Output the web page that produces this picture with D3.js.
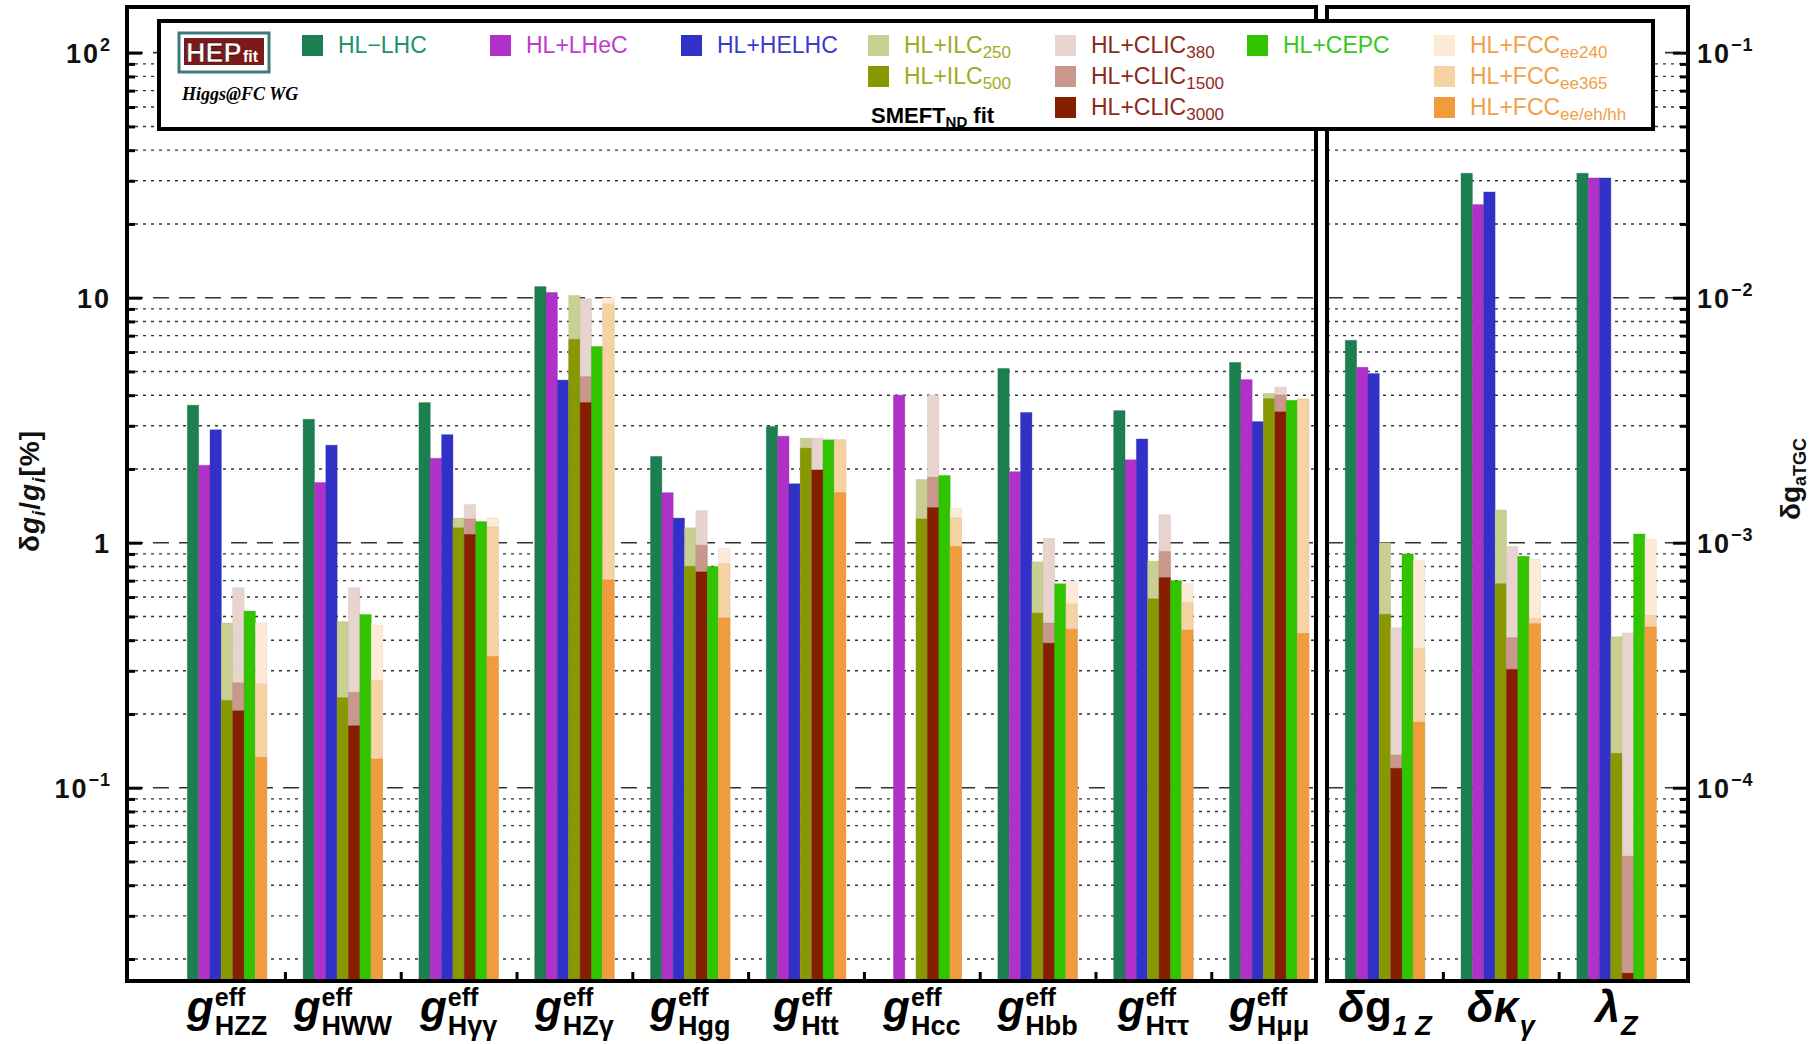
<!DOCTYPE html>
<html>
<head>
<meta charset="utf-8">
<script src="https://cdn.jsdelivr.net/npm/d3@7"></script>
<style>
  html, body { margin: 0; padding: 0; background: #fff; }
  svg { display: block; font-family: "Liberation Sans", Arial, sans-serif; }
</style>
</head>
<body>
<div id="chart"></div>
<script>
// couplings (left panel, in %) and aTGC (right panel, absolute)
const higgsSubs = ["HZZ", "HWW", "Hγγ", "HZγ", "Hgg", "Htt", "Hcc", "Hbb", "Hττ", "Hμμ"]
const tgcLabels = [["δ", "g", "1 Z"], ["δκ", "", "γ"], ["λ", "", "Z"]]

const hlLhc    = [3.64, 3.19, 3.73, 11.1, 2.25, 2.98, null, 5.14, 3.46, 5.44]
const hlLhec   = [2.07, 1.76, 2.21, 10.5, 1.60, 2.72, 4.0, 1.95, 2.18, 4.63]
const hlHelhc  = [2.89, 2.50, 2.76, 4.61, 1.26, 1.74, null, 3.40, 2.65, 3.12]
const ilc250   = [0.47, 0.476, 1.26, 10.2, 1.15, 2.67, 1.81, 0.835, 0.84, 4.07]
const ilc500   = [0.227, 0.233, 1.15, 6.76, 0.80, 2.43, 1.25, 0.516, 0.59, 3.87]
const clic380  = [0.655, 0.655, 1.43, 9.9, 1.35, 2.67, 4.0, 1.04, 1.30, 4.31]
const clic1500 = [0.268, 0.245, 1.25, 4.76, 0.977, 1.98, 1.85, 0.47, 0.92, 4.01]
const clic3000 = [0.206, 0.179, 1.08, 3.73, 0.76, 1.98, 1.39, 0.389, 0.72, 3.42]
const cepc     = [0.526, 0.509, 1.22, 6.32, 0.80, 2.63, 1.88, 0.68, 0.70, 3.81]
const fcc240   = [0.47, 0.461, 1.26, 10.0, 0.948, 2.63, 1.38, 0.698, 0.68, 3.86]
const fcc365   = [0.265, 0.274, 1.16, 9.43, 0.82, 2.63, 1.26, 0.562, 0.57, 3.86]
const fccAll   = [0.133, 0.131, 0.343, 0.705, 0.493, 1.60, 0.965, 0.443, 0.44, 0.426]

const tgcLhc      = [6.7e-3, 3.22e-2, 3.22e-2]
const tgcLhec     = [5.2e-3, 2.40e-2, 3.08e-2]
const tgcHelhc    = [4.9e-3, 2.70e-2, 3.08e-2]
const tgcIlc250   = [1.0e-3, 1.36e-3, 4.13e-4]
const tgcIlc500   = [5.1e-4, 6.8e-4, 1.38e-4]
const tgcClic380  = [4.5e-4, 9.65e-4, 4.28e-4]
const tgcClic1500 = [1.36e-4, 4.1e-4, 5.25e-5]
const tgcClic3000 = [1.20e-4, 3.04e-4, 1.75e-5]
const tgcCepc     = [9.0e-4, 8.8e-4, 1.085e-3]
const tgcFcc240   = [8.45e-4, 8.53e-4, 1.03e-3]
const tgcFcc365   = [3.7e-4, 4.9e-4, 5.05e-4]
const tgcFccAll   = [1.85e-4, 4.67e-4, 4.53e-4]

const leftTicks = [[100, "10", "2"], [10, "10", ""], [1, "1", ""], [0.1, "10", "−1"]]
const rightTicks = [[1e-1, "−1"], [1e-2, "−2"], [1e-3, "−3"], [1e-4, "−4"]]

// series: slot within a group, drawing order = light first, dark on top
const series = [
    {name: "HL−LHC", sub: "", slot: 0, color: "#1b7f50", text: "#22906a", higgs: hlLhc, tgc: tgcLhc},
    {name: "HL+LHeC", sub: "", slot: 1, color: "#b031c8", text: "#c03ccf", higgs: hlLhec, tgc: tgcLhec},
    {name: "HL+HELHC", sub: "", slot: 2, color: "#3131c8", text: "#3a3ad0", higgs: hlHelhc, tgc: tgcHelhc},
    {name: "HL+ILC", sub: "250", slot: 3, color: "#c9cf91", text: "#a3aa22", higgs: ilc250, tgc: tgcIlc250},
    {name: "HL+ILC", sub: "500", slot: 3, color: "#879800", text: "#a3aa22", higgs: ilc500, tgc: tgcIlc500},
    {name: "HL+CLIC", sub: "380", slot: 4, color: "#e7d4ce", text: "#8e2a1c", higgs: clic380, tgc: tgcClic380},
    {name: "HL+CLIC", sub: "1500", slot: 4, color: "#c9978b", text: "#8e2a1c", higgs: clic1500, tgc: tgcClic1500},
    {name: "HL+CLIC", sub: "3000", slot: 4, color: "#851f00", text: "#8e2a1c", higgs: clic3000, tgc: tgcClic3000},
    {name: "HL+CEPC", sub: "", slot: 5, color: "#33c400", text: "#38c81c", higgs: cepc, tgc: tgcCepc},
    {name: "HL+FCC", sub: "ee240", slot: 6, color: "#fdebd8", text: "#f0a048", higgs: fcc240, tgc: tgcFcc240},
    {name: "HL+FCC", sub: "ee365", slot: 6, color: "#f7d2a3", text: "#f0a048", higgs: fcc365, tgc: tgcFcc365},
    {name: "HL+FCC", sub: "ee/eh/hh", slot: 6, color: "#f09c3c", text: "#f0a048", higgs: fccAll, tgc: tgcFccAll}
]

const width = 1810, height = 1044
const plotTop = 7, plotBottom = 981
const leftPanel = [127, 1316], rightPanel = [1327, 1688]
const barW = 0.098

const svg = d3.select("#chart").append("svg")
    .attr("width", width)
    .attr("height", height)
    .attr("viewBox", `0 0 ${width} ${height}`)

const x = d3.scaleLinear().domain([-0.864, 12.617]).range([leftPanel[0], rightPanel[1]])
const y = d3.scaleLog().domain([0.01626, 153.6]).range([plotBottom, plotTop])
const yR = d3.scaleLog().domain([0.01626e-3, 153.6e-3]).range([plotBottom, plotTop])

// grid values: 1..9 x decade
const gridVals = []
for (let e = -2; e <= 2; e++) {
    for (let m = 1; m <= 9; m++) {
        const v = m * Math.pow(10, e)
        if (v >= y.domain()[0] && v <= y.domain()[1]) gridVals.push({v, major: m === 1})
    }
}

const appendGrid = ([x0, x1]) => {
    svg.append("g").selectAll("line")
        .data(gridVals)
        .join("line")
        .attr("x1", x0).attr("x2", x1)
        .attr("y1", d => y(d.v)).attr("y2", d => y(d.v))
        .attr("stroke", "#333")
        .attr("stroke-width", d => d.major ? 1.6 : 1.4)
        .attr("stroke-dasharray", d => d.major ? "16 10" : "3 5")
}
appendGrid(leftPanel)
appendGrid(rightPanel)

// bars
const bars = []
series.forEach(s => {
    s.higgs.forEach((v, i) => v != null && bars.push({i, v, s, scale: y}))
    s.tgc.forEach((v, i) => v != null && bars.push({i: 10 + i, v, s, scale: yR}))
})
const slotX = d => x(d.i + (d.s.slot - 3.5) * barW)
svg.append("g").selectAll("rect")
    .data(bars)
    .join("rect")
    .attr("x", slotX)
    .attr("width", d => x(d.i + (d.s.slot - 2.5) * barW) - slotX(d))
    .attr("y", d => d.scale(d.v))
    .attr("height", d => plotBottom - d.scale(d.v))
    .attr("fill", d => d.s.color)
    .attr("stroke", d => d3.color(d.s.color).darker(0.4))
    .attr("stroke-opacity", 0.35)
    .attr("stroke-width", 1)

// left / right axis ticks (inward)
const tickStyle = g => g.call(g => g.select(".domain").remove())
    .call(g => g.selectAll(".tick line").attr("stroke", "#000").attr("stroke-width", 3))
    .call(g => g.selectAll(".tick text").remove())

svg.append("g").attr("transform", `translate(${leftPanel[0]},0)`)
    .call(d3.axisLeft(y).tickValues(gridVals.filter(d => d.major).map(d => d.v)).tickSize(-15))
    .call(tickStyle)
svg.append("g").attr("transform", `translate(${leftPanel[0]},0)`)
    .call(d3.axisLeft(y).tickValues(gridVals.filter(d => !d.major).map(d => d.v)).tickSize(-8))
    .call(tickStyle)
svg.append("g").attr("transform", `translate(${rightPanel[1]},0)`)
    .call(d3.axisRight(yR).tickValues(gridVals.filter(d => d.major).map(d => d.v * 1e-3)).tickSize(-15))
    .call(tickStyle)
svg.append("g").attr("transform", `translate(${rightPanel[1]},0)`)
    .call(d3.axisRight(yR).tickValues(gridVals.filter(d => !d.major).map(d => d.v * 1e-3)).tickSize(-8))
    .call(tickStyle)

// bottom ticks between groups
svg.append("g").attr("transform", `translate(0,${plotBottom})`)
    .call(d3.axisBottom(x).tickValues([0.5, 1.5, 2.5, 3.5, 4.5, 5.5, 6.5, 7.5, 8.5, 10.5, 11.5]).tickSize(-9))
    .call(tickStyle)

// panel frames
;[leftPanel, rightPanel].forEach(([x0, x1]) => {
    svg.append("rect")
        .attr("x", x0).attr("y", plotTop)
        .attr("width", x1 - x0).attr("height", plotBottom - plotTop)
        .attr("fill", "none").attr("stroke", "#000").attr("stroke-width", 4)
})

// tick labels
const tl = svg.append("g").attr("font-weight", "bold").attr("fill", "#111").attr("font-size", 27)
leftTicks.forEach(([v, base, exp]) => {
    const t = tl.append("text").attr("x", 111).attr("y", y(v) + 10).attr("text-anchor", "end")
        .attr("letter-spacing", 2)
    t.append("tspan").text(base)
    if (exp) t.append("tspan").attr("dy", -12).attr("font-size", 18).attr("letter-spacing", 1).text(exp)
})
rightTicks.forEach(([v, exp]) => {
    const t = tl.append("text").attr("x", 1697).attr("y", yR(v) + 10).attr("letter-spacing", 2)
    t.append("tspan").text("10")
    t.append("tspan").attr("dy", -12).attr("font-size", 18).attr("letter-spacing", 1).text(exp)
})

// axis titles
const yTitle = svg.append("text")
    .attr("transform", `translate(39,491) rotate(-90)`)
    .attr("text-anchor", "middle").attr("font-weight", "bold").attr("font-size", 28).attr("fill", "#111")
    .attr("letter-spacing", 1)
yTitle.append("tspan").text("δ")
yTitle.append("tspan").attr("font-style", "italic").text("g")
yTitle.append("tspan").attr("font-style", "italic").attr("font-size", 19).attr("dy", 6).text("i")
yTitle.append("tspan").attr("dy", -6).text("/")
yTitle.append("tspan").attr("font-style", "italic").text("g")
yTitle.append("tspan").attr("font-style", "italic").attr("font-size", 19).attr("dy", 6).text("i")
yTitle.append("tspan").attr("dy", -6).text("[%]")

const y2Title = svg.append("text")
    .attr("transform", `translate(1800,479) rotate(-90)`)
    .attr("text-anchor", "middle").attr("font-weight", "bold").attr("font-size", 28).attr("fill", "#111")
y2Title.append("tspan").text("δg")
y2Title.append("tspan").attr("font-size", 18).attr("dy", 6).text("aTGC")

// category labels
const drawLabel = (cx, main, mainUp, sup, sub, subItalic) => {
    const g = svg.append("g").attr("font-weight", "bold").attr("fill", "#000")
    const t = g.append("text").attr("y", 1022).attr("font-size", 44)
    t.append("tspan").attr("font-style", "italic").text(main)
    if (mainUp) t.append("tspan").attr("font-style", "normal").text(mainUp)
    const mw = t.node().getComputedTextLength()
    let supW = 0
    if (sup) {
        const s = g.append("text").attr("x", mw + 1).attr("y", 1006).attr("font-size", 25).text(sup)
        supW = s.node().getComputedTextLength()
    }
    const b = g.append("text").attr("x", mw + 1).attr("y", 1035).attr("font-size", 27)
        .attr("font-style", subItalic ? "italic" : "normal").text(sub)
    const subW = b.node().getComputedTextLength()
    const total = mw + 1 + Math.max(supW, subW)
    g.attr("transform", `translate(${cx - total / 2},0)`)
}
higgsSubs.forEach((s, i) => drawLabel(x(i), "g", "", "eff", s, false))
tgcLabels.forEach(([m, up, s], i) => drawLabel(x(10 + i), m, up, "", s, true))

// legend
const legend = svg.append("g")
legend.append("rect")
    .attr("x", 159).attr("y", 21).attr("width", 1494).attr("height", 108)
    .attr("fill", "#fff").attr("stroke", "#000").attr("stroke-width", 4)

const logo = legend.append("g").attr("transform", "translate(179,33)")
logo.append("rect").attr("width", 90).attr("height", 39).attr("fill", "#fff")
    .attr("stroke", "#3d7a78").attr("stroke-width", 3)
logo.append("rect").attr("x", 5).attr("y", 5).attr("width", 80).attr("height", 27).attr("fill", "#7a1a1a")
logo.append("text").attr("x", 7).attr("y", 29).attr("font-size", 27).attr("font-weight", "bold")
    .attr("fill", "#fff").attr("stroke", "#3a0808").attr("stroke-width", 0.6).text("HEP")
logo.append("text").attr("x", 64).attr("y", 29).attr("font-size", 16).attr("font-weight", "bold")
    .attr("fill", "#fff").text("fit")
legend.append("text").attr("x", 182).attr("y", 100)
    .attr("font-family", "'Liberation Serif', 'DejaVu Serif', serif")
    .attr("font-style", "italic").attr("font-weight", "bold").attr("font-size", 18)
    .text("Higgs@FC WG")

const smeft = legend.append("text").attr("x", 871).attr("y", 123)
    .attr("font-weight", "bold").attr("font-size", 22).attr("fill", "#000")
smeft.append("tspan").text("SMEFT")
smeft.append("tspan").attr("font-size", 15).attr("dy", 4).text("ND")
smeft.append("tspan").attr("dy", -4).text(" fit")

const legendCols = [302, 490, 681, 868, 868, 1055, 1055, 1055, 1247, 1434, 1434, 1434]
const legendRows = [0, 0, 0, 0, 1, 0, 1, 2, 0, 0, 1, 2]
series.forEach((s, i) => {
    const lx = legendCols[i], ly = 35 + legendRows[i] * 31
    legend.append("rect").attr("x", lx).attr("y", ly).attr("width", 21).attr("height", 21).attr("fill", s.color)
    const t = legend.append("text").attr("x", lx + 36).attr("y", ly + 18)
        .attr("font-size", 23).attr("fill", s.text)
    t.append("tspan").text(s.name)
    if (s.sub) t.append("tspan").attr("font-size", 17).attr("dy", 5).text(s.sub)
})
</script>
</body>
</html>
